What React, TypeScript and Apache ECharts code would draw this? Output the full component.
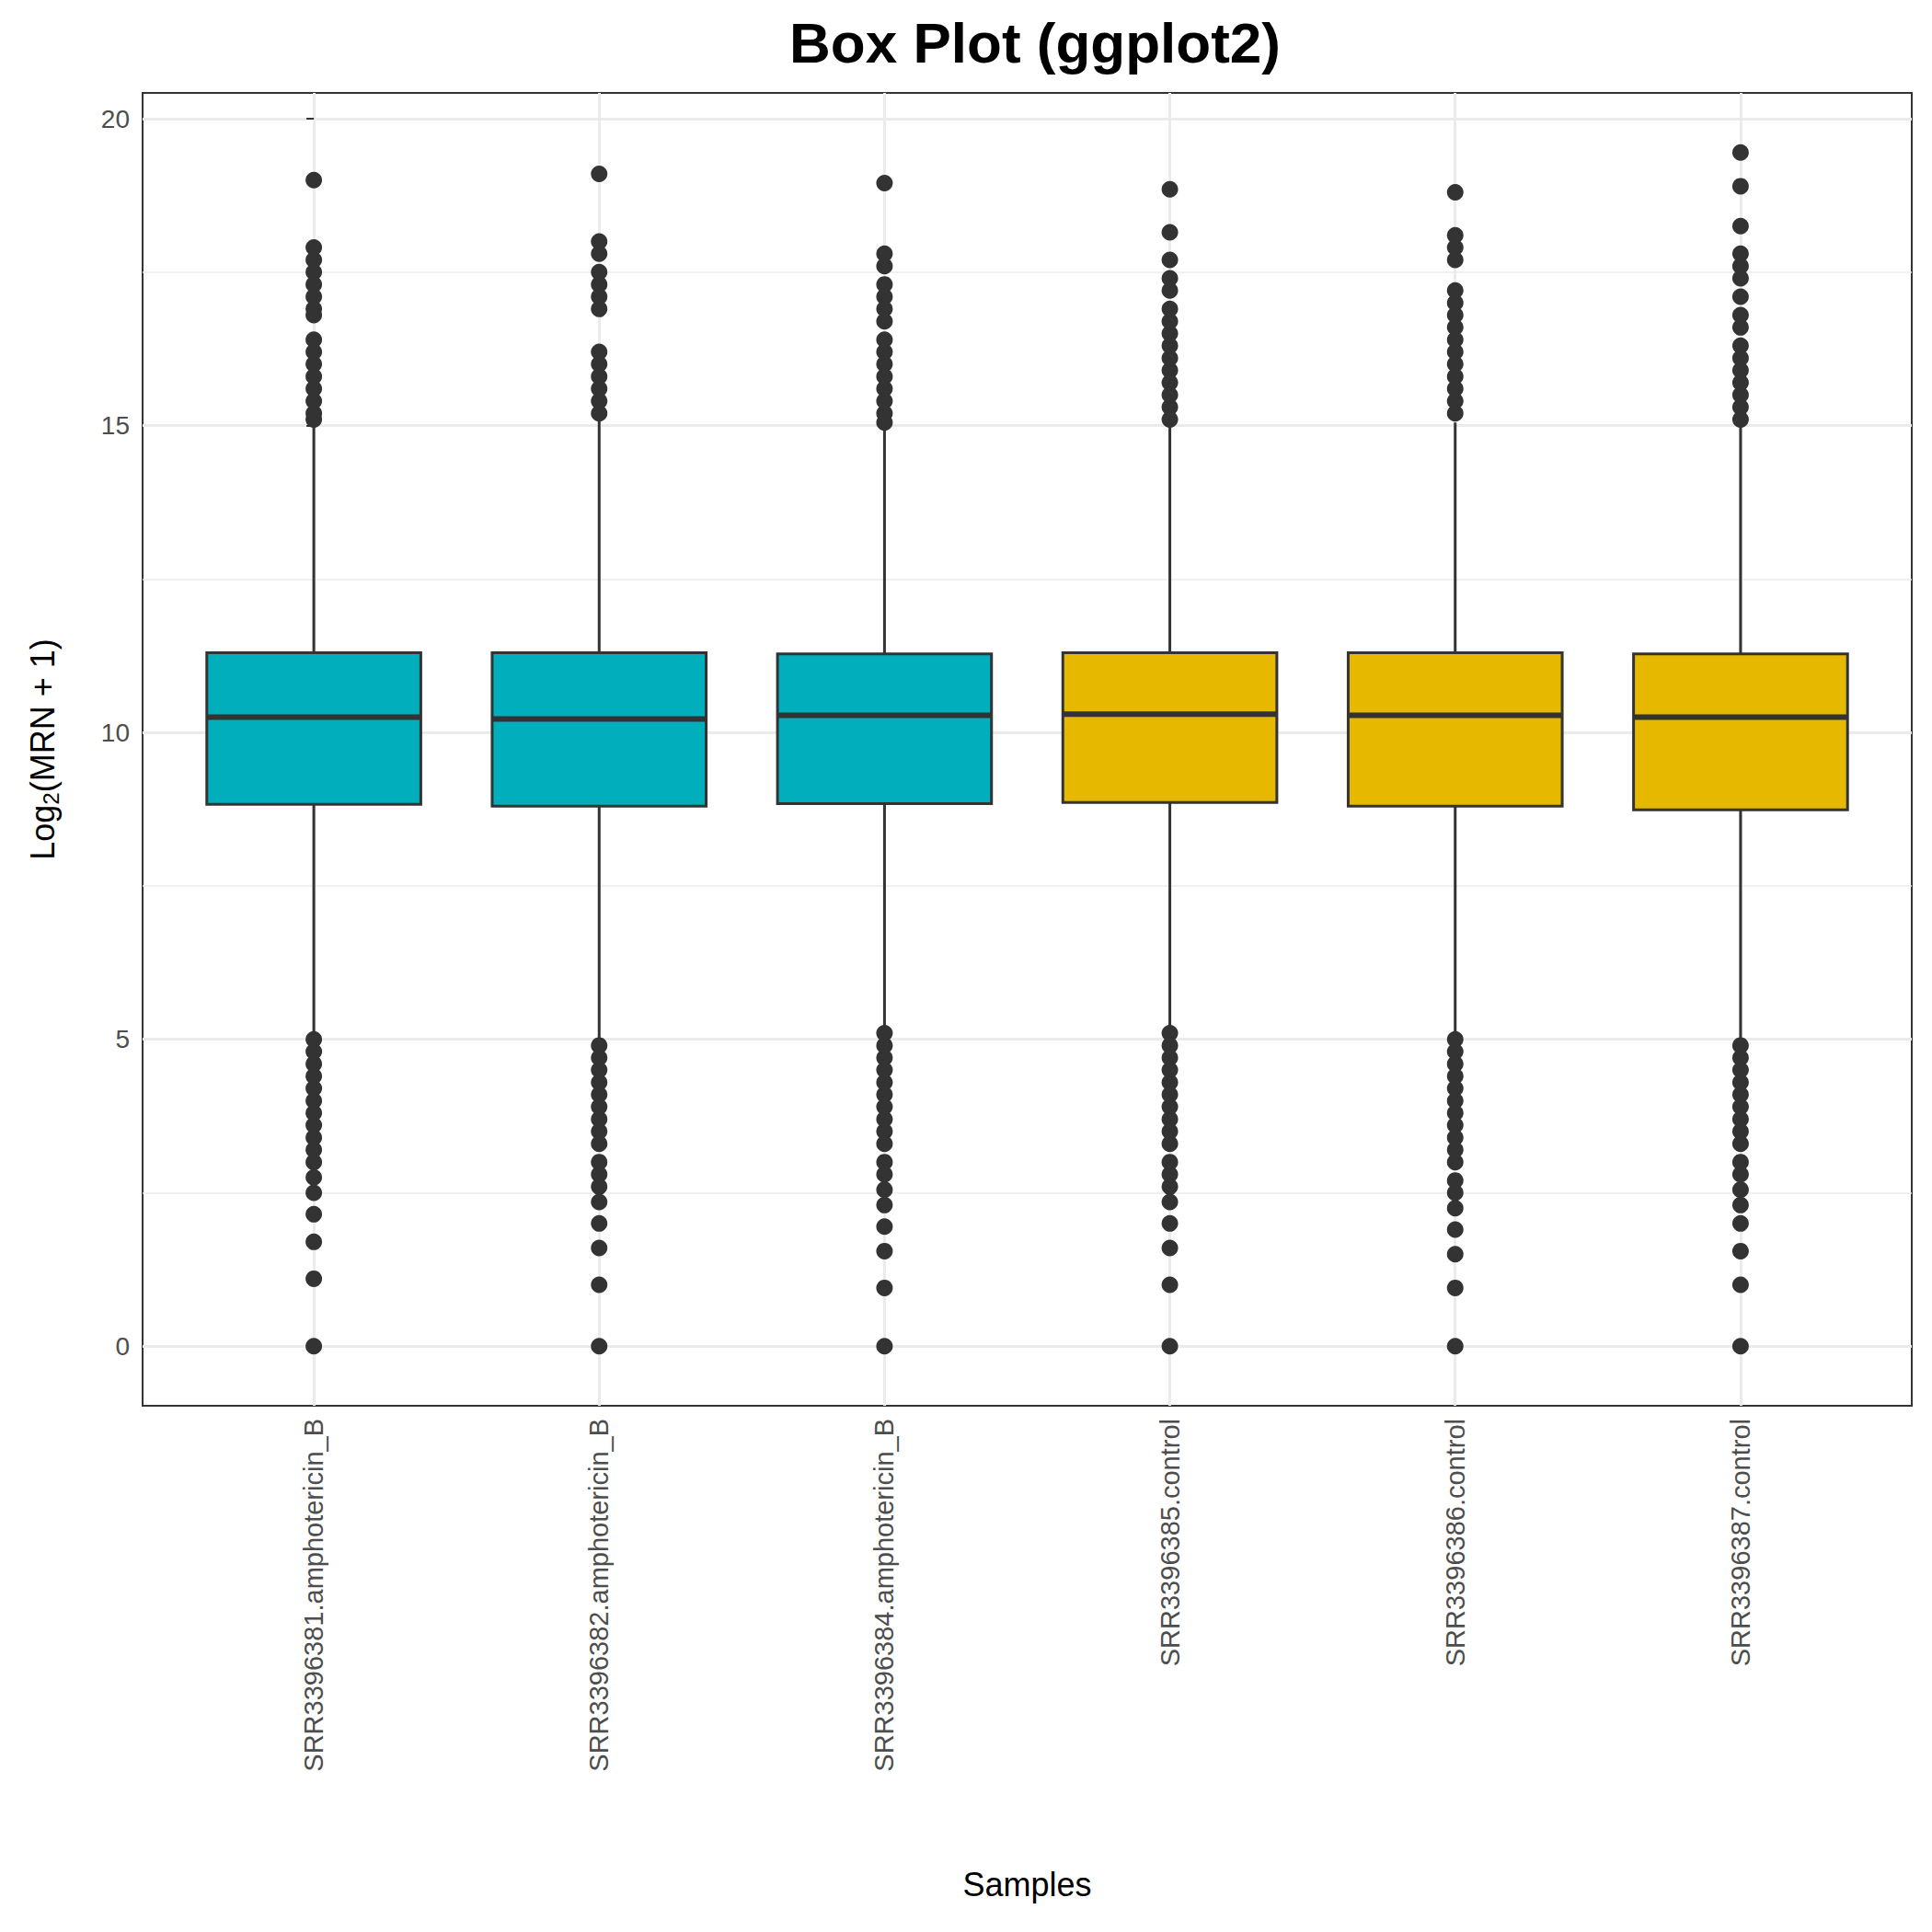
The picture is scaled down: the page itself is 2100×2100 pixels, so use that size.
import React, { useEffect, useRef } from "react";
import * as echarts from "echarts";

const samples = [
  "SRR3396381.amphotericin_B",
  "SRR3396382.amphotericin_B",
  "SRR3396384.amphotericin_B",
  "SRR3396385.control",
  "SRR3396386.control",
  "SRR3396387.control",
];
const boxColors = ["#00AFBB", "#00AFBB", "#00AFBB", "#E7B800", "#E7B800", "#E7B800"];
// [low whisker, Q1, median, Q3, high whisker]
const boxStats = [
  [5.1, 8.83, 10.25, 11.3, 15.05],
  [5.0, 8.8, 10.22, 11.3, 15.1],
  [5.15, 8.84, 10.28, 11.28, 15.0],
  [5.15, 8.86, 10.3, 11.3, 15.0],
  [5.05, 8.8, 10.28, 11.3, 15.05],
  [4.95, 8.74, 10.25, 11.28, 15.05],
];
const outliers = [
  [19.0, 17.9, 17.7, 17.5, 17.3, 17.1, 16.9, 16.8, 16.4, 16.2, 16.0, 15.8, 15.6, 15.4, 15.2, 15.1,
   5.0, 4.8, 4.6, 4.4, 4.2, 4.0, 3.8, 3.6, 3.4, 3.2, 3.0, 2.75, 2.5, 2.15, 1.7, 1.1, 0],
  [19.1, 18.0, 17.8, 17.5, 17.3, 17.1, 16.9, 16.2, 16.0, 15.8, 15.6, 15.4, 15.2,
   4.9, 4.7, 4.5, 4.3, 4.1, 3.9, 3.7, 3.5, 3.3, 3.0, 2.8, 2.6, 2.35, 2.0, 1.6, 1.0, 0],
  [18.95, 17.8, 17.6, 17.3, 17.1, 16.9, 16.7, 16.4, 16.2, 16.0, 15.8, 15.6, 15.4, 15.2, 15.05,
   5.1, 4.9, 4.7, 4.5, 4.3, 4.1, 3.9, 3.7, 3.5, 3.3, 3.0, 2.8, 2.55, 2.3, 1.95, 1.55, 0.95, 0],
  [18.85, 18.15, 17.7, 17.4, 17.2, 16.9, 16.7, 16.5, 16.3, 16.1, 15.9, 15.7, 15.5, 15.3, 15.1,
   5.1, 4.9, 4.7, 4.5, 4.3, 4.1, 3.9, 3.7, 3.5, 3.3, 3.0, 2.8, 2.6, 2.35, 2.0, 1.6, 1.0, 0],
  [18.8, 18.1, 17.9, 17.7, 17.2, 17.0, 16.8, 16.6, 16.4, 16.2, 16.0, 15.8, 15.6, 15.4, 15.2,
   5.0, 4.8, 4.6, 4.4, 4.2, 4.0, 3.8, 3.6, 3.4, 3.2, 3.0, 2.7, 2.5, 2.25, 1.9, 1.5, 0.95, 0],
  [19.45, 18.9, 18.25, 17.8, 17.6, 17.4, 17.1, 16.8, 16.6, 16.3, 16.1, 15.9, 15.7, 15.5, 15.3, 15.1,
   4.9, 4.7, 4.5, 4.3, 4.1, 3.9, 3.7, 3.5, 3.3, 3.0, 2.8, 2.55, 2.3, 2.0, 1.55, 1.0, 0],
];
const majorTicks = [0, 5, 10, 15, 20];
const minorTicks = [2.5, 7.5, 12.5, 17.5];
const xPositions = [0, 1, 2, 3, 4, 5];

const App: React.FC = () => {
  const ref = useRef<HTMLDivElement>(null);

  useEffect(() => {
    document.body.style.margin = "0";
    if (!ref.current) return;
    const chart = echarts.init(ref.current, undefined, { renderer: "svg" });
    const font = "Liberation Sans";
    const hLine = (v: number, w: number) => ({ yAxis: v, lineStyle: { color: "#EBEBEB", width: w, type: "solid" } });

    chart.setOption({
      animation: false,
      backgroundColor: "#fff",
      textStyle: { fontFamily: font },
      title: {
        text: "Box Plot (ggplot2)",
        left: 1120,
        textAlign: "center",
        top: 10,
        textStyle: { fontSize: 62, fontWeight: "bold", color: "#000", fontFamily: font },
      },
      grid: {
        left: 155, right: 22, top: 101, bottom: 572,
        show: true, borderColor: "#333", borderWidth: 2, backgroundColor: "transparent",
      },
      xAxis: {
        type: "value",
        min: -0.6,
        max: 5.6,
        name: "Samples",
        nameLocation: "middle",
        nameGap: 502,
        nameTextStyle: { fontSize: 36, color: "#000" },
        axisLine: { show: false },
        axisTick: { customValues: xPositions, length: 8, lineStyle: { color: "#333", width: 2 } },
        axisLabel: {
          customValues: xPositions,
          formatter: (v: number) => samples[Math.round(v)] ?? "",
          rotate: 90, fontSize: 29, color: "#4D4D4D", margin: 14,
        },
        splitLine: { show: false },
      },
      yAxis: {
        type: "value",
        min: -0.97,
        max: 20.42,
        name: "{a|Log}{s|2}{a|(MRN + 1)}",
        nameLocation: "middle",
        nameRotate: 90,
        nameGap: 88,
        nameTextStyle: { rich: { a: { fontSize: 36, color: "#000" }, s: { fontSize: 24, color: "#000", padding: [18, 0, 0, 0] } } },
        axisLine: { show: false },
        axisTick: { customValues: majorTicks, length: 8, lineStyle: { color: "#333", width: 2 } },
        axisLabel: { customValues: majorTicks, fontSize: 28, color: "#4D4D4D", margin: 14 },
        splitLine: { show: false },
      },
      series: [
        {
          type: "scatter",
          data: [],
          silent: true,
          z: 0,
          markLine: {
            silent: true,
            z: 0,
            symbol: "none",
            label: { show: false },
            data: [
              ...majorTicks.map((v) => hLine(v, 3)),
              ...minorTicks.map((v) => hLine(v, 1.5)),
              ...xPositions.map((x) => ({ xAxis: x, lineStyle: { color: "#EBEBEB", width: 3, type: "solid" } })),
            ],
          },
        },
        {
          type: "custom",
          z: 2,
          data: boxStats.map((d, i) => [i, ...d]),
          renderItem: (params: any, api: any) => {
            const i = api.value(0);
            const low = api.coord([i, api.value(1)]);
            const q1 = api.coord([i, api.value(2)]);
            const med = api.coord([i, api.value(3)]);
            const q3 = api.coord([i, api.value(4)]);
            const high = api.coord([i, api.value(5)]);
            const w = api.size([0.75, 0])[0];
            const cx = low[0];
            const stroke = { stroke: "#333", lineWidth: 3 };
            return {
              type: "group",
              children: [
                { type: "line", shape: { x1: cx, y1: low[1], x2: cx, y2: high[1] }, style: stroke },
                {
                  type: "rect",
                  shape: { x: cx - w / 2, y: q3[1], width: w, height: q1[1] - q3[1] },
                  style: { fill: boxColors[i], stroke: "#333", lineWidth: 3 },
                },
                { type: "line", shape: { x1: cx - w / 2, y1: med[1], x2: cx + w / 2, y2: med[1] }, style: { stroke: "#333", lineWidth: 6 } },
              ],
            };
          },
        },
        {
          type: "scatter",
          symbolSize: 18,
          itemStyle: { color: "#333", opacity: 1 },
          z: 3,
          data: outliers.flatMap((vals, i) => vals.map((v) => [i, v])),
        },
      ],
    });
    return () => chart.dispose();
  }, []);

  return <div ref={ref} style={{ width: 2100, height: 2100 }} />;
};

export default App;
